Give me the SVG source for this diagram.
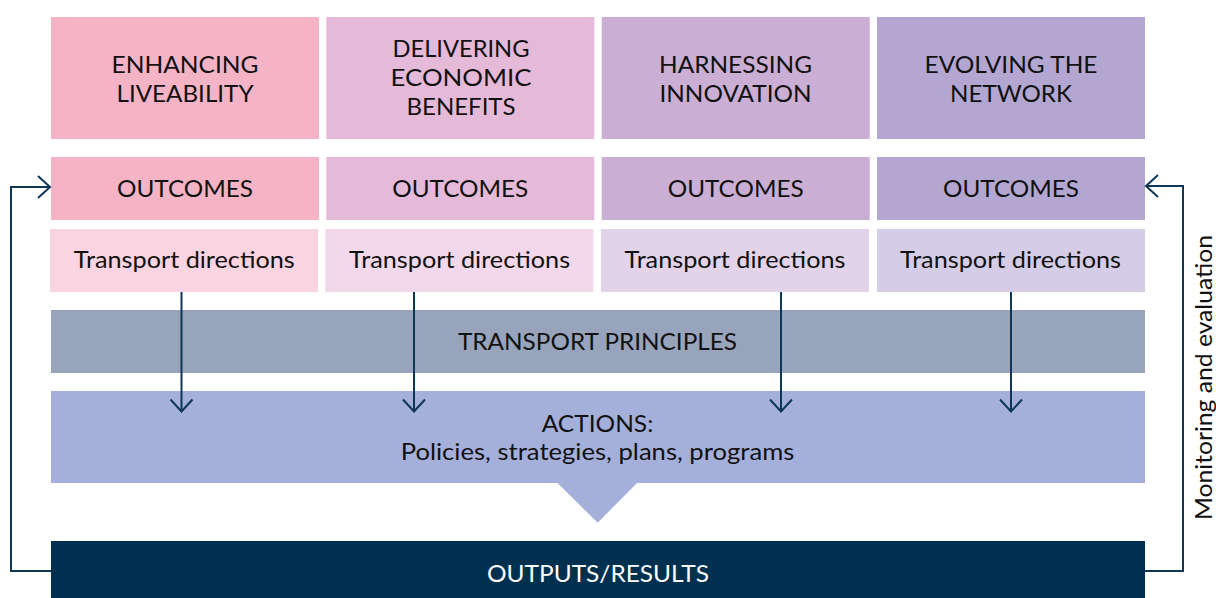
<svg xmlns="http://www.w3.org/2000/svg" width="1216" height="598" viewBox="0 0 1216 598">
<defs>
<style>
text{font-family:Lato,"Noto Sans","Liberation Sans",sans-serif;font-size:23px;fill:#111;text-anchor:middle}
.w{fill:#fff}
.ln{fill:none;stroke:#0e3657;stroke-width:2}
</style>
<marker id="ah" markerUnits="userSpaceOnUse" viewBox="-14 -12 16 24" refX="0" refY="0" markerWidth="16" markerHeight="24" orient="auto">
<path d="M-12,-11 L0,0 L-12,11" fill="none" stroke="#0e3657" stroke-width="2"/>
</marker>
</defs>
<rect width="1216" height="598" fill="#fff"/>
<g id="col1">
<rect x="51" y="17" width="268" height="122" fill="#f5b3c6"/>
<text x="185" y="72.7" textLength="147" lengthAdjust="spacingAndGlyphs">ENHANCING</text>
<text x="185" y="101.7" textLength="137" lengthAdjust="spacingAndGlyphs">LIVEABILITY</text>
</g>
<g id="col2">
<rect x="326.3" y="17" width="268" height="122" fill="#e5b9d8"/>
<text x="461" y="56.7" textLength="137" lengthAdjust="spacingAndGlyphs">DELIVERING</text>
<text x="461" y="86" textLength="141" lengthAdjust="spacingAndGlyphs">ECONOMIC</text>
<text x="461" y="115" textLength="109" lengthAdjust="spacingAndGlyphs">BENEFITS</text>
</g>
<g id="col3">
<rect x="601.7" y="17" width="268" height="122" fill="#cbaed4"/>
<text x="735.5" y="72.7" textLength="153" lengthAdjust="spacingAndGlyphs">HARNESSING</text>
<text x="735.5" y="101.7" textLength="152" lengthAdjust="spacingAndGlyphs">INNOVATION</text>
</g>
<g id="col4">
<rect x="877" y="17" width="268" height="122" fill="#b3a7d1"/>
<text x="1011" y="72.7" textLength="173" lengthAdjust="spacingAndGlyphs">EVOLVING THE</text>
<text x="1011" y="101.7" textLength="122" lengthAdjust="spacingAndGlyphs">NETWORK</text>
</g>
<g id="outcomes1"><rect x="51" y="157" width="268" height="63" fill="#f5b3c6"/><text x="185" y="196.7" textLength="136" lengthAdjust="spacingAndGlyphs">OUTCOMES</text></g>
<g id="outcomes2"><rect x="326.3" y="157" width="268" height="63" fill="#e5b9d8"/><text x="460.3" y="196.7" textLength="136" lengthAdjust="spacingAndGlyphs">OUTCOMES</text></g>
<g id="outcomes3"><rect x="601.7" y="157" width="268" height="63" fill="#cbaed4"/><text x="735.7" y="196.7" textLength="136" lengthAdjust="spacingAndGlyphs">OUTCOMES</text></g>
<g id="outcomes4"><rect x="877" y="157" width="268" height="63" fill="#b3a7d1"/><text x="1011" y="196.7" textLength="136" lengthAdjust="spacingAndGlyphs">OUTCOMES</text></g>
<g id="directions1"><rect x="50" y="229" width="268" height="63" fill="#fad4e0"/><text x="184.3" y="268.3" textLength="221" lengthAdjust="spacingAndGlyphs">Transport directions</text></g>
<g id="directions2"><rect x="325.3" y="229" width="268" height="63" fill="#f2d8ea"/><text x="459.6" y="268.3" textLength="221" lengthAdjust="spacingAndGlyphs">Transport directions</text></g>
<g id="directions3"><rect x="601" y="229" width="268" height="63" fill="#e2d3e9"/><text x="735" y="268.3" textLength="221" lengthAdjust="spacingAndGlyphs">Transport directions</text></g>
<g id="directions4"><rect x="877" y="229" width="268" height="63" fill="#d5cde7"/><text x="1010.5" y="268.3" textLength="221" lengthAdjust="spacingAndGlyphs">Transport directions</text></g>
<g id="principles"><rect x="51" y="310" width="1094" height="63" fill="#97a4bb"/><text x="597.5" y="350" textLength="279" lengthAdjust="spacingAndGlyphs">TRANSPORT PRINCIPLES</text></g>
<g id="actions">
<rect x="51" y="391" width="1094" height="92" fill="#a5b0da"/>
<polygon points="557,482.5 637.5,482.5 597.7,522.7" fill="#a5b0da"/>
<text x="597.5" y="431.7" textLength="111.6" lengthAdjust="spacingAndGlyphs">ACTIONS:</text>
<text x="597.5" y="460" textLength="393.6" lengthAdjust="spacingAndGlyphs">Policies, strategies, plans, programs</text>
</g>
<g id="outputs"><rect x="51" y="541" width="1094" height="57" fill="#00304f"/><text class="w" x="598" y="581.7" textLength="222" lengthAdjust="spacingAndGlyphs">OUTPUTS/RESULTS</text></g>
<g id="label-monitoring"><text transform="translate(1212,377.5) rotate(-90)" x="0" y="0" textLength="285" lengthAdjust="spacingAndGlyphs">Monitoring and evaluation</text></g>
<g id="connectors">
<path class="ln" d="M181.5,292 V411.5" marker-end="url(#ah)"/>
<path class="ln" d="M414,292 V411.5" marker-end="url(#ah)"/>
<path class="ln" d="M781,292 V411.5" marker-end="url(#ah)"/>
<path class="ln" d="M1011,292 V411.5" marker-end="url(#ah)"/>
<path class="ln" d="M51,571 H11 V187 H50" marker-end="url(#ah)"/>
<path class="ln" d="M1145,571 H1183 V186 H1146" marker-end="url(#ah)"/>
</g>
</svg>
